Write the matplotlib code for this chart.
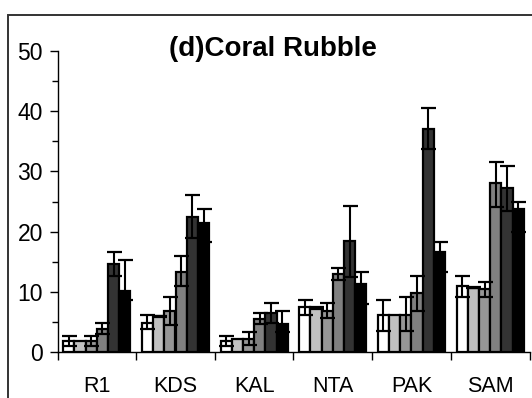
import numpy as np
import matplotlib
matplotlib.use("Agg")
import matplotlib.pyplot as plt
from matplotlib.patches import Rectangle
from matplotlib.ticker import MultipleLocator, FixedLocator

plt.rcParams['font.family'] = ['Liberation Sans', 'DejaVu Sans']

sites = ["R1", "KDS", "KAL", "NTA", "PAK", "SAM"]
series_colors = ["#ffffff", "#c0c0c0", "#969696", "#808080", "#333333", "#000000"]

# mean cover per site for each of the six series
s1 = [1.8, 4.9, 1.8, 7.4, 6.1, 11.0]
s2 = [1.8, 5.9, 2.1, 7.3, 6.2, 10.7]
s3 = [1.8, 6.8, 2.2, 6.8, 6.2, 10.4]
s4 = [3.9, 13.3, 5.5, 13.0, 9.8, 28.0]
s5 = [14.6, 22.4, 6.5, 18.4, 37.1, 27.3]
s6 = [10.1, 21.4, 4.6, 11.3, 16.6, 23.8]

# error bar extents (below, above) per series
e1_lo = [0.8, 1.1, 0.8, 1.2, 2.6, 1.8]
e1_hi = [0.8, 1.3, 0.8, 1.3, 2.6, 1.6]
e2_lo = [0.0, 0.1, 0.0, 0.1, 0.0, 0.1]
e2_hi = [0.0, 0.1, 0.0, 0.1, 0.0, 0.1]
e3_lo = [0.8, 2.3, 1.0, 1.1, 2.7, 1.3]
e3_hi = [0.8, 2.3, 1.1, 1.3, 2.9, 1.2]
e4_lo = [0.9, 2.3, 0.8, 1.0, 3.0, 3.9]
e4_hi = [0.9, 2.6, 1.0, 1.0, 2.9, 3.5]
e5_lo = [1.9, 3.5, 1.7, 6.0, 3.3, 3.9]
e5_hi = [2.0, 3.6, 1.6, 5.9, 3.5, 3.6]
e6_lo = [1.4, 3.2, 1.3, 3.4, 3.3, 3.9]
e6_hi = [5.2, 2.3, 2.2, 2.0, 1.7, 1.2]

values = [s1, s2, s3, s4, s5, s6]
err_lo = [e1_lo, e2_lo, e3_lo, e4_lo, e5_lo, e6_lo]
err_hi = [e1_hi, e2_hi, e3_hi, e4_hi, e5_hi, e6_hi]

W, H = 532, 398
fig = plt.figure(figsize=(W / 100, H / 100), dpi=100)
fig.patch.set_facecolor("white")

# outer frame (runs off the right and bottom edges)
fig.patches.append(Rectangle((8 / W, -0.05), 1.1, 1 - 15 / H + 0.05,
                             transform=fig.transFigure, fill=False,
                             edgecolor="#333333", linewidth=1.4, zorder=0))

ax = fig.add_axes([57.5 / W, 46 / H, 472 / W, 301 / H])
ax.set_facecolor("none")

x = np.arange(len(sites))
bw = 0.1425
n = len(values)
for i, (vals, lo, hi, c) in enumerate(zip(values, err_lo, err_hi, series_colors)):
    pos = x + (i - (n - 1) / 2) * bw
    ax.bar(pos, vals, width=bw, color=c, edgecolor="black", linewidth=1.6, zorder=2)
    lo_a = np.array(lo)
    hi_a = np.array(hi)
    mask = (lo_a + hi_a) > 0
    ax.errorbar(pos[mask], np.array(vals)[mask], yerr=[lo_a[mask], hi_a[mask]],
                fmt="none", ecolor="black", elinewidth=1.5, capsize=5.4,
                capthick=1.6, zorder=3)

ax.set_xlim(-0.5, len(sites) - 0.5)
ax.set_ylim(0, 50)

for s in ["top", "right"]:
    ax.spines[s].set_visible(False)
ax.spines["left"].set_linewidth(1.0)
ax.spines["bottom"].set_linewidth(1.0)

ax.yaxis.set_major_locator(MultipleLocator(10))
ax.yaxis.set_minor_locator(MultipleLocator(5))
ax.tick_params(axis="y", which="major", direction="out", length=5.5, width=1.0,
               labelsize=16.5, pad=5)
ax.tick_params(axis="y", which="minor", direction="out", length=4, width=1.0)

ax.set_xticks(x)
ax.set_xticklabels(sites)
ax.xaxis.set_minor_locator(FixedLocator(np.arange(-0.5, len(sites), 1.0)))
ax.tick_params(axis="x", which="major", length=0, labelsize=15.5, pad=17)
ax.tick_params(axis="x", which="minor", direction="out", length=5.5, width=1.0)

fig.text(273 / W, 1 - 48.5 / H, "(d)Coral Rubble", ha="center", va="center",
         fontsize=20, fontweight="bold")

fig.savefig("out.png", dpi=100)
